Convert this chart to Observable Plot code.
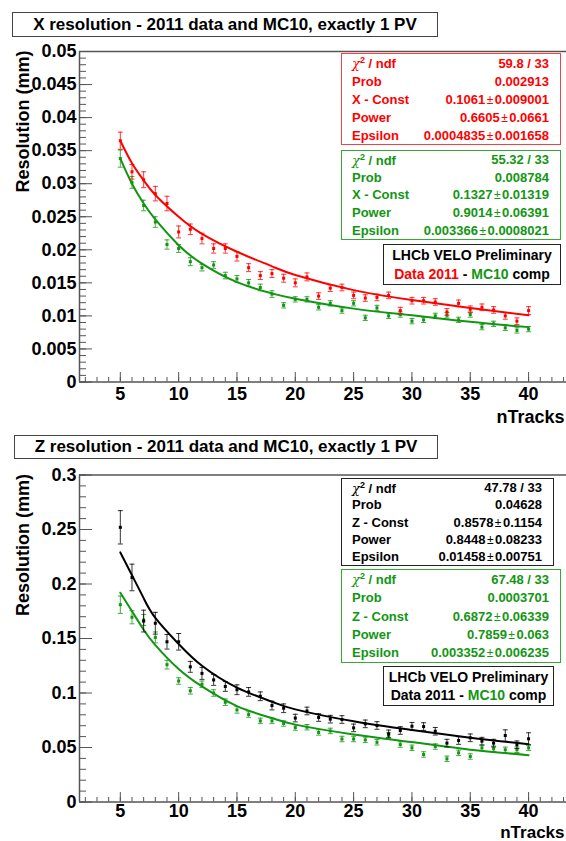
<!DOCTYPE html>
<html><head><meta charset="utf-8">
<script src="https://cdn.jsdelivr.net/npm/d3@7"></script>
<script src="https://cdn.jsdelivr.net/npm/@observablehq/plot@0.6"></script>
<style>
body{margin:0;background:#fff;}
#root{position:relative;width:566px;height:841px;overflow:hidden;font-family:"Liberation Sans",Arial,sans-serif;font-weight:bold;color:#000;}
.abs{position:absolute;left:0;}
.title{position:absolute;box-sizing:border-box;border:1px solid #444;font-size:17px;display:flex;align-items:center;justify-content:center;white-space:nowrap;}
.stat{position:absolute;box-sizing:border-box;border:1px solid;font-size:13px;display:flex;flex-direction:column;background:#fff;}
.stat .row{flex:1;display:flex;justify-content:space-between;align-items:center;padding:0 11px 0 10px;white-space:nowrap;}
.chi{font-family:"DejaVu Serif",serif;font-style:italic;font-weight:normal;}
.pm{font-weight:normal;font-size:12px;margin:0 1.5px;}
.lhcb{position:absolute;box-sizing:border-box;border:1px solid #222;font-size:14px;display:flex;flex-direction:column;justify-content:space-evenly;align-items:center;white-space:nowrap;background:#fff;}
</style></head>
<body><div id="root"></div>
<script>
// ---------- data ----------
const nTracks = [5,6,7,8,9,10,11,12,13,14,15,16,17,18,19,20,21,22,23,24,25,26,27,28,29,30,31,32,33,34,35,36,37,38,39,40];

// X resolution (mm)
const dataX = [0.0365,0.0318,0.0306,0.0285,0.0270,0.0227,0.0231,0.0217,0.0202,0.0202,0.0190,0.0173,0.0161,0.0164,0.0157,0.0150,0.0159,0.0130,0.0142,0.0143,0.0131,0.0127,0.0128,0.0131,0.0108,0.0123,0.0123,0.0121,0.0106,0.0119,0.0110,0.0113,0.0109,0.0100,0.0092,0.0108];
const dataXErr = [0.0013,0.0011,0.0012,0.0011,0.0011,0.0009,0.0008,0.0008,0.0007,0.0007,0.0007,0.0006,0.0006,0.0006,0.0006,0.0006,0.0006,0.0005,0.0005,0.0005,0.0005,0.0005,0.0005,0.0005,0.0005,0.0005,0.0005,0.0005,0.0005,0.0005,0.0005,0.0005,0.0005,0.0005,0.0005,0.0006];
const mcX = [0.0338,0.0302,0.0267,0.0242,0.0208,0.0202,0.0182,0.0173,0.0177,0.0161,0.0156,0.0150,0.0143,0.0133,0.0116,0.0125,0.0125,0.0113,0.0119,0.0108,0.0119,0.0097,0.0112,0.0100,0.0102,0.0092,0.0094,0.0100,0.0101,0.0094,0.0102,0.0083,0.0088,0.0082,0.0078,0.0080];
const mcXErr = [0.0013,0.0009,0.0008,0.0008,0.0007,0.0006,0.0006,0.0005,0.0005,0.0005,0.0005,0.0005,0.0005,0.0005,0.0004,0.0004,0.0004,0.0004,0.0004,0.0004,0.0004,0.0004,0.0004,0.0004,0.0004,0.0004,0.0004,0.0004,0.0004,0.0004,0.0004,0.0004,0.0004,0.0004,0.0004,0.0004];
const fitN = [5,6,7,8,10,12,15,18,20,25,30,35,40];
const dataXFit = [0.0365,0.0331,0.0305,0.0283,0.0250,0.0224,0.0197,0.0175,0.0162,0.0139,0.0124,0.0112,0.0101];
const mcXFit = [0.0338,0.0300,0.0270,0.0246,0.0207,0.0179,0.0151,0.0134,0.0126,0.0111,0.0101,0.0091,0.0083];

// Z resolution (mm)
const dataZ = [0.252,0.206,0.166,0.164,0.147,0.147,0.124,0.118,0.112,0.106,0.103,0.101,0.097,0.0885,0.086,0.077,0.0835,0.0775,0.076,0.0757,0.068,0.0717,0.0702,0.0625,0.0656,0.0695,0.0692,0.0649,0.054,0.0564,0.0589,0.0558,0.054,0.061,0.0525,0.058];
const dataZErr = [0.0153,0.0122,0.010,0.010,0.0067,0.0076,0.005,0.0055,0.005,0.0045,0.0045,0.004,0.004,0.004,0.004,0.0035,0.0035,0.0035,0.0035,0.0035,0.0035,0.0035,0.0035,0.0035,0.0035,0.0035,0.0035,0.0035,0.0035,0.0035,0.0035,0.0035,0.0035,0.0052,0.0035,0.0055];
const mcZ = [0.181,0.1695,0.167,0.151,0.126,0.111,0.102,0.108,0.100,0.0915,0.0845,0.0802,0.0744,0.0744,0.072,0.0683,0.0686,0.0638,0.0652,0.0578,0.0578,0.057,0.0548,0.061,0.0527,0.0497,0.0436,0.0509,0.0396,0.0451,0.0417,0.0497,0.0488,0.0479,0.0479,0.0497];
const mcZErr = [0.008,0.006,0.005,0.005,0.004,0.003,0.003,0.003,0.003,0.003,0.003,0.0025,0.0025,0.0025,0.0025,0.0025,0.0025,0.0025,0.0025,0.0025,0.0025,0.0025,0.0025,0.0025,0.0025,0.0025,0.0025,0.0025,0.0025,0.0025,0.0025,0.0025,0.0025,0.0025,0.0025,0.0025];
const dataZFit = [0.229,0.208,0.187,0.169,0.145,0.125,0.105,0.092,0.085,0.074,0.066,0.059,0.053];
const mcZFit = [0.192,0.175,0.158,0.144,0.122,0.106,0.088,0.077,0.071,0.062,0.055,0.048,0.043];

// ticks
const xTicks = [5,10,15,20,25,30,35,40];
const xTickLabels = ["5","10","15","20","25","30","35","40"];
const yTicksX = [0,0.005,0.01,0.015,0.02,0.025,0.03,0.035,0.04,0.045,0.05];
const yTickLabelsX = ["0","0.005","0.01","0.015","0.02","0.025","0.03","0.035","0.04","0.045","0.05"];
const yTicksZ = [0,0.05,0.1,0.15,0.2,0.25,0.3];
const yTickLabelsZ = ["0","0.05","0.1","0.15","0.2","0.25","0.3"];

// stats text
const statLabelsX = ["X - Const","Power","Epsilon"];
const statLabelsZ = ["Z - Const","Power","Epsilon"];
const dataXStats = ["59.8 / 33","0.002913","0.1061","0.009001","0.6605","0.0661","0.0004835","0.001658"];
const mcXStats = ["55.32 / 33","0.008784","0.1327","0.01319","0.9014","0.06391","0.003366","0.0008021"];
const dataZStats = ["47.78 / 33","0.04628","0.8578","0.1154","0.8448","0.08233","0.01458","0.00751"];
const mcZStats = ["67.48 / 33","0.0003701","0.6872","0.06339","0.7859","0.063","0.003352","0.006235"];
const titleX = "X resolution - 2011 data and MC10, exactly 1 PV";
const titleZ = "Z resolution - 2011 data and MC10, exactly 1 PV";

// ---------- drawing ----------
const RED = "#ff0000", GREEN = "#129612", BLACK = "#000000", AX = "#555";
const root = document.getElementById("root");
const hline = {draw(ctx, size){const w = Math.sqrt(size/Math.PI); ctx.moveTo(-w,0); ctx.lineTo(w,0);}};

function series(ys, es){ return nTracks.map((n,i)=>({n, y: ys[i], e: es[i]})); }
function fit(ys){ return fitN.map((n,i)=>({n, y: ys[i]})); }

function seriesMarks(s, color){
  return [
    Plot.ruleX(s, {x:"n", y1: d=>d.y-d.e, y2: d=>d.y+d.e, stroke: color, strokeWidth: 1, strokeOpacity: 0.8}),
    Plot.dot(s, {x:"n", y: d=>d.y-d.e, symbol: hline, r: 2.5, stroke: color, strokeWidth: 1, fill: "none", strokeOpacity: 0.8}),
    Plot.dot(s, {x:"n", y: d=>d.y+d.e, symbol: hline, r: 2.5, stroke: color, strokeWidth: 1, fill: "none", strokeOpacity: 0.8}),
    Plot.dot(s, {x:"n", y:"y", symbol: "square", r: 1.7, fill: color, stroke: "none"})
  ];
}

function panel({top, height, mTop, mBottom, yDomain, yTicks, yLabels, yMinorStep, groups, fits, tickPad, nTracksDy, nTracksSize}){
  const plotH = height - mTop - mBottom;
  const plotW = 566 - 79;
  const yMinor = d3.range(Math.round((yDomain[1]-yDomain[0])/yMinorStep)+1).map(i => yDomain[0] + i*yMinorStep);
  const xMinor = d3.range(2, 44);
  const chart = Plot.plot({
    width: 566, height, marginLeft: 79, marginRight: 0, marginTop: mTop, marginBottom: mBottom,
    style: {fontFamily: "'Liberation Sans', Arial, sans-serif", fontWeight: "bold", fontSize: "18px", background: "transparent", overflow: "visible", color: "#000"},
    x: {domain: [1.5, 43.25]},
    y: {domain: yDomain},
    marks: [
      Plot.ruleX(xMinor, {insetTop: plotH - 4.5, stroke: AX}),
      Plot.ruleX(xTicks, {insetTop: plotH - 9.5, stroke: AX}),
      Plot.ruleY(yMinor, {insetRight: plotW - 7, stroke: AX}),
      Plot.ruleY(yTicks, {insetRight: plotW - 13, stroke: AX}),
      Plot.axisX({ticks: xTicks, tickSize: 0, tickPadding: tickPad, tickFormat: d => xTickLabels[xTicks.indexOf(d)], label: null, fill: "#000"}),
      Plot.axisY({ticks: yTicks, tickSize: 0, tickPadding: 3, tickFormat: d => yLabels[yTicks.indexOf(d)], label: null, fill: "#000"}),
      Plot.ruleX([1.5], {stroke: AX, strokeWidth: 1.5}),
      Plot.ruleY([yDomain[0]], {stroke: AX, strokeWidth: 1.5}),
      Plot.ruleY([yDomain[1]], {stroke: AX, strokeWidth: 1.5}),
      Plot.text(["Resolution (mm)"], {text: d=>d, frameAnchor: "top-left", rotate: -90, textAnchor: "end", lineAnchor: "middle", dx: -56, dy: -1, fontSize: 18, fontWeight: "bold", fill: "#000"}),
      Plot.text(["nTracks"], {text: d=>d, frameAnchor: "bottom-right", textAnchor: "end", lineAnchor: "middle", dx: -2, dy: nTracksDy, fontSize: nTracksSize, fontWeight: "bold", fill: "#000"}),
      ...fits.map(([f, c]) => Plot.line(f, {x:"n", y:"y", stroke: c, strokeWidth: 2, curve: "natural"})),
      ...groups.flatMap(([s, c]) => seriesMarks(s, c))
    ]
  });
  const wrap = document.createElement("div");
  wrap.className = "abs"; wrap.style.top = top + "px";
  wrap.appendChild(chart);
  root.appendChild(wrap);
}

function titleBox(text, left, top, width, height){
  const d = document.createElement("div");
  d.className = "title";
  Object.assign(d.style, {left: left+"px", top: top+"px", width: width+"px", height: height+"px"});
  d.textContent = text;
  root.appendChild(d);
}

function statBox(labels, vals, color, border, left, top, width, height){
  const d = document.createElement("div");
  d.className = "stat";
  Object.assign(d.style, {left: left+"px", top: top+"px", width: width+"px", height: height+"px", color, borderColor: border});
  const rows = [
    [`<span><span class="chi">χ</span><sup style="font-size:9px">2</sup> / ndf</span>`, vals[0]],
    ["Prob", vals[1]],
    [labels[0], `${vals[2]}<span class="pm">±</span>${vals[3]}`],
    [labels[1], `${vals[4]}<span class="pm">±</span>${vals[5]}`],
    [labels[2], `${vals[6]}<span class="pm">±</span>${vals[7]}`]
  ];
  d.innerHTML = rows.map(([a,b]) => `<div class="row"><span>${a}</span><span>${b}</span></div>`).join("");
  root.appendChild(d);
}

function lhcbBox(dataColor, left, top, width, height){
  const d = document.createElement("div");
  d.className = "lhcb";
  Object.assign(d.style, {left: left+"px", top: top+"px", width: width+"px", height: height+"px"});
  d.innerHTML = `<div>LHCb VELO Preliminary</div><div><span style="color:${dataColor}">Data 2011</span> - <span style="color:${GREEN}">MC10</span> comp</div>`;
  root.appendChild(d);
}

panel({top: 0, height: 425, mTop: 51, mBottom: 43.5, yDomain: [0, 0.05], yTicks: yTicksX, yLabels: yTickLabelsX, yMinorStep: 0.001,
  groups: [[series(mcX, mcXErr), GREEN], [series(dataX, dataXErr), RED]],
  fits: [[fit(mcXFit), GREEN], [fit(dataXFit), RED]], tickPad: 5, nTracksDy: 35, nTracksSize: 18});
panel({top: 425, height: 416, mTop: 49.5, mBottom: 39.5, yDomain: [0, 0.3], yTicks: yTicksZ, yLabels: yTickLabelsZ, yMinorStep: 0.01,
  groups: [[series(mcZ, mcZErr), GREEN], [series(dataZ, dataZErr), BLACK]],
  fits: [[fit(mcZFit), GREEN], [fit(dataZFit), BLACK]], tickPad: 2, nTracksDy: 30.5, nTracksSize: 17});

titleBox(titleX, 12, 12, 426, 25);
titleBox(titleZ, 14, 435, 424, 24);
statBox(statLabelsX, dataXStats, RED, "#e44", 341, 53, 220, 92);
statBox(statLabelsX, mcXStats, GREEN, "#3a3", 341, 150, 220, 90);
lhcbBox(RED, 383, 244, 178, 41);
statBox(statLabelsZ, dataZStats, BLACK, "#222", 341, 478, 213, 88);
statBox(statLabelsZ, mcZStats, GREEN, "#3a3", 341, 569, 220, 94);
lhcbBox(BLACK, 383, 666, 171, 40);
</script></body></html>
